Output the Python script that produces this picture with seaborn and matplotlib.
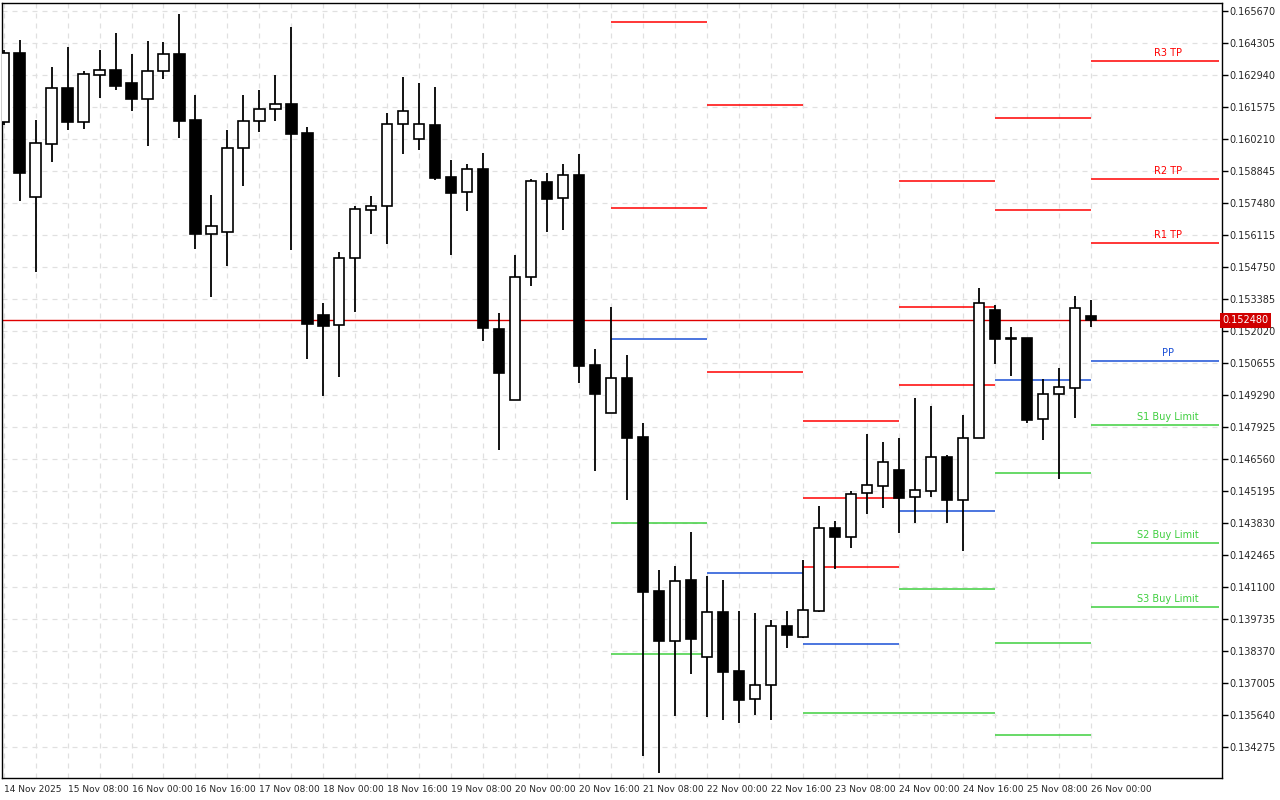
import matplotlib
matplotlib.use('Agg')
import matplotlib.pyplot as plt
import numpy as np
import seaborn as sns

# 4-hour candles, 14 Nov 16:00 .. 26 Nov 00:00
opens = [0.160935, 0.163878, 0.157736, 0.159997, 0.162385, 0.160935, 0.162940, 0.163153, 0.162599, 0.161916,
         0.163111, 0.163836, 0.161020, 0.156158, 0.156243, 0.159826, 0.160978, 0.161490, 0.161703, 0.160466,
         0.152703, 0.152276, 0.155134, 0.157181, 0.157352, 0.160850, 0.160210, 0.160807, 0.158589, 0.157949,
         0.158930, 0.152105, 0.149077, 0.154323, 0.158376, 0.157693, 0.158674, 0.150570, 0.148522, 0.150015,
         0.147499, 0.140930, 0.138797, 0.141399, 0.138114, 0.140034, 0.137517, 0.136323, 0.136920, 0.139437,
         0.138967, 0.140076, 0.143617, 0.143233, 0.145110, 0.145408, 0.146091, 0.144939, 0.145195, 0.146645,
         0.144811, 0.147456, 0.152916, 0.151721, 0.151721, 0.148266, 0.149333, 0.149589, 0.152660]
highs = [0.164006, 0.164433, 0.161020, 0.163281, 0.164134, 0.163111, 0.164006, 0.164732, 0.163836, 0.164390,
         0.164348, 0.165542, 0.162087, 0.157821, 0.160594, 0.162087, 0.162300, 0.162940, 0.164988, 0.160722,
         0.153214, 0.155390, 0.157352, 0.157779, 0.161319, 0.162855, 0.162599, 0.162428, 0.159314, 0.159144,
         0.159613, 0.152788, 0.155262, 0.158504, 0.158760, 0.159144, 0.159570, 0.151252, 0.153044, 0.150996,
         0.148096, 0.141825, 0.141996, 0.143446, 0.141569, 0.141399, 0.140076, 0.139991, 0.139693, 0.140076,
         0.142252, 0.144555, 0.143915, 0.145195, 0.147626, 0.147285, 0.147456, 0.149162, 0.148821, 0.146731,
         0.148437, 0.153854, 0.153129, 0.152191, 0.151721, 0.149973, 0.150442, 0.153513, 0.153342]
lows = [0.160807, 0.157565, 0.154537, 0.159229, 0.160594, 0.160637, 0.161959, 0.162300, 0.161404, 0.159911,
        0.162769, 0.160253, 0.155518, 0.153470, 0.154793, 0.158205, 0.160509, 0.160978, 0.155475, 0.150826,
        0.149247, 0.150058, 0.152830, 0.156158, 0.155731, 0.159570, 0.159741, 0.158461, 0.155262, 0.157139,
        0.151594, 0.146944, 0.149077, 0.153940, 0.156243, 0.156328, 0.149802, 0.146048, 0.148522, 0.144811,
        0.133891, 0.133166, 0.135598, 0.137389, 0.135555, 0.135427, 0.135299, 0.135640, 0.135427, 0.138498,
        0.138925, 0.140034, 0.141868, 0.142764, 0.144214, 0.144470, 0.143404, 0.143830, 0.144939, 0.143830,
        0.142636, 0.147456, 0.150612, 0.150101, 0.148096, 0.147371, 0.145707, 0.148309, 0.152191]
closes = [0.163878, 0.158760, 0.160039, 0.162385, 0.160935, 0.162983, 0.163153, 0.162471, 0.161916, 0.163111,
          0.163836, 0.160978, 0.156158, 0.156499, 0.159826, 0.160978, 0.161490, 0.161703, 0.160423, 0.152319,
          0.152233, 0.155134, 0.157224, 0.157352, 0.160850, 0.161404, 0.160850, 0.158546, 0.157907, 0.158930,
          0.152148, 0.150229, 0.154323, 0.158418, 0.157651, 0.158674, 0.150527, 0.149333, 0.150015, 0.147456,
          0.140887, 0.138797, 0.141356, 0.138882, 0.140034, 0.137474, 0.136280, 0.136920, 0.139437, 0.139053,
          0.140119, 0.143617, 0.143233, 0.145067, 0.145451, 0.146432, 0.144897, 0.145238, 0.146645, 0.144811,
          0.147456, 0.153214, 0.151679, 0.151700, 0.148224, 0.149333, 0.149631, 0.153001, 0.152480]

x_labels = ['14 Nov 2025', '15 Nov 08:00', '16 Nov 00:00', '16 Nov 16:00', '17 Nov 08:00', '18 Nov 00:00',
            '18 Nov 16:00', '19 Nov 08:00', '20 Nov 00:00', '20 Nov 16:00', '21 Nov 08:00', '22 Nov 00:00',
            '22 Nov 16:00', '23 Nov 08:00', '24 Nov 00:00', '24 Nov 16:00', '25 Nov 08:00', '26 Nov 00:00']

y_ticks = [0.134275, 0.135640, 0.137005, 0.138370, 0.139735, 0.141100, 0.142465, 0.143830, 0.145195, 0.146560,
           0.147925, 0.149290, 0.150655, 0.152020, 0.153385, 0.154750, 0.156115, 0.157480, 0.158845, 0.160210,
           0.161575, 0.162940, 0.164305, 0.165670]

current_price = 0.152480

# daily pivot levels: (start candle, end candle, resistances, pivot, supports)
pivot_days = [
    (38, 44, [0.165201, 0.157267], 0.151679, [0.143830, 0.138242]),
    (44, 50, [0.161660, 0.150271], 0.141697, []),
    (50, 56, [0.148181, 0.144897, 0.141953], 0.138669, [0.135725]),
    (56, 62, [0.158418, 0.153044, 0.149717], 0.144342, [0.141015, 0.135725]),
    (62, 68, [0.161106, 0.157181], 0.149930, [0.145963, 0.138711, 0.134787]),
    (68, 76, [0.163537, 0.158504, 0.155774], 0.150740, [0.148011, 0.142977, 0.140247]),
]
last_labels_r = ['R3 TP', 'R2 TP', 'R1 TP']
last_labels_s = ['S1 Buy Limit', 'S2 Buy Limit', 'S3 Buy Limit']

sns.set_style("white")
plt.rcParams['font.family'] = ['DejaVu Sans']

fig = plt.figure(figsize=(12.8, 8), dpi=100)
ax = fig.add_axes([2 / 1280, 22 / 800, 1220 / 1280, 775 / 800])

idx = np.arange(len(opens))
o = np.array(opens)
c = np.array(closes)
up = c >= o

ax.vlines(idx, lows, highs, color='black', linewidth=1.3, zorder=3)
ax.bar(idx, np.abs(c - o) + 1e-6, bottom=np.minimum(o, c), width=0.64,
       color=np.where(up, 'white', 'black'), edgecolor='black', linewidth=1.2, zorder=4)

red, blue, green = '#ff0000', '#1a4fd6', '#3fcf3f'
for start, end, res, pp, sup in pivot_days:
    ax.hlines(res, start, end, color=red, linewidth=1.1, zorder=2)
    ax.hlines(pp, start, end, color=blue, linewidth=1.1, zorder=2)
    ax.hlines(sup, start, end, color=green, linewidth=1.1, zorder=2)

start, end, res, pp, sup = pivot_days[-1]
lx = 72.8
for lvl, lab in zip(res, last_labels_r):
    ax.text(lx, lvl + 0.00012, lab, color=red, fontsize=7, ha='center', va='bottom')
ax.text(lx, pp + 0.00012, 'PP', color=blue, fontsize=7, ha='center', va='bottom')
for lvl, lab in zip(sup, last_labels_s):
    ax.text(lx, lvl + 0.00012, lab, color=green, fontsize=7, ha='center', va='bottom')

ax.axhline(current_price, color='#e00000', linewidth=1.0, zorder=2.5)

ax.set_xlim(-0.1, 76.2)
ax.set_ylim(0.132953, 0.166011)

ax.set_xticks(np.arange(0, len(opens), 2), minor=True)
ax.set_xticks(np.arange(0, 4 * len(x_labels), 4))
ax.set_xticklabels(x_labels, fontsize=6.5, ha='left')
ax.set_yticks(y_ticks)
ax.set_yticklabels([f'{v:.6f}' for v in y_ticks], fontsize=7)
ax.yaxis.tick_right()
ax.tick_params(axis='both', which='major', direction='out', length=4, width=1, color='black', pad=1)
ax.tick_params(axis='x', which='minor', length=0)
ax.grid(True, which='both', axis='x', color='#e0e0e0', linestyle=(0, (4, 4)), linewidth=0.9, zorder=0)
ax.grid(True, which='major', axis='y', color='#e0e0e0', linestyle=(0, (4, 4)), linewidth=0.9, zorder=0)
for s in ax.spines.values():
    s.set_color('black')
    s.set_linewidth(1)

ax.text(1.0005, current_price, f'{current_price:.6f}', transform=ax.get_yaxis_transform(),
        fontsize=7, color='white', va='center', ha='left',
        bbox=dict(boxstyle='square,pad=0.25', facecolor='#d00000', edgecolor='none'))

fig.savefig('out.png', dpi=100)
